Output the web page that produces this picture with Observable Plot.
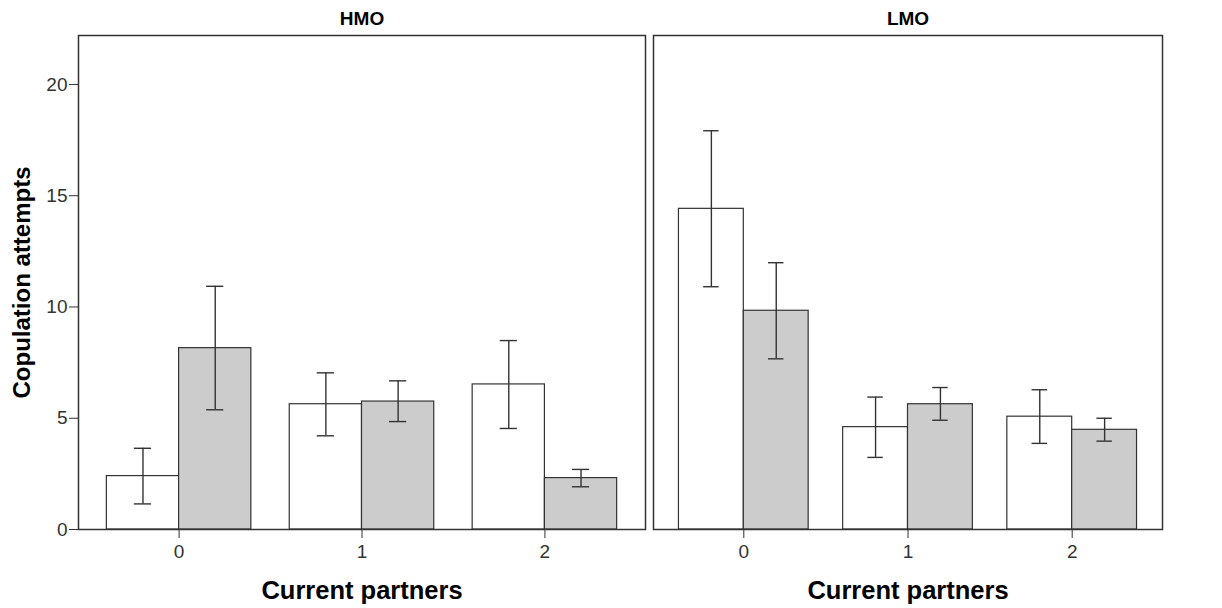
<!DOCTYPE html>
<html>
<head>
<meta charset="utf-8">
<script src="https://cdn.jsdelivr.net/npm/d3@7"></script>
<script src="https://cdn.jsdelivr.net/npm/@observablehq/plot@0.6"></script>
<style>
  body { margin: 0; background: #fff; }
  #chart { display: flex; width: 1222px; height: 608px; }
  #chart svg { display: block; }
</style>
</head>
<body>
<div id="chart"></div>
<script>
// Number of current partners (x categories)
const partners = [0, 1, 2];
const panels = ["HMO", "LMO"];
const yTicks = [0, 5, 10, 15, 20];

// HMO – open (white) bars: mean and error-bar limits
const hmoOpenMean = [2.40, 5.63, 6.52];
const hmoOpenLow  = [1.15, 4.21, 4.54];
const hmoOpenHigh = [3.65, 7.04, 8.49];
// HMO – shaded (grey) bars
const hmoShadedMean = [8.15, 5.75, 2.31];
const hmoShadedLow  = [5.38, 4.85, 1.92];
const hmoShadedHigh = [10.93, 6.68, 2.70];

// LMO – open (white) bars
const lmoOpenMean = [14.41, 4.60, 5.07];
const lmoOpenLow  = [10.91, 3.24, 3.87];
const lmoOpenHigh = [17.92, 5.95, 6.28];
// LMO – shaded (grey) bars
const lmoShadedMean = [9.83, 5.63, 4.48];
const lmoShadedLow  = [7.67, 4.91, 3.97];
const lmoShadedHigh = [11.99, 6.38, 5.00];

const half = 0.395;   // width of one bar, in category units
const cap = 0.047;    // half-width of the error-bar caps

function rows(openM, openL, openH, shM, shL, shH) {
  const out = [];
  partners.forEach((p, i) => {
    out.push({p, group: "open", x1: p - half, x2: p, mean: openM[i], low: openL[i], high: openH[i]});
    out.push({p, group: "shaded", x1: p, x2: p + half, mean: shM[i], low: shL[i], high: shH[i]});
  });
  out.forEach(d => d.xc = (d.x1 + d.x2) / 2);
  return out;
}

const data = {
  HMO: rows(hmoOpenMean, hmoOpenLow, hmoOpenHigh, hmoShadedMean, hmoShadedLow, hmoShadedHigh),
  LMO: rows(lmoOpenMean, lmoOpenLow, lmoOpenHigh, lmoShadedMean, lmoShadedLow, lmoShadedHigh)
};

const ink = "#333";
const bold = "Liberation Sans, Arial, sans-serif";

function panel(name, {width, marginLeft, marginRight, showY}) {
  const d = data[name];
  const marks = [
    Plot.rectY(d, {x1: "x1", x2: "x2", y: "mean",
      fill: r => r.group === "open" ? "#ffffff" : "#cccccc", stroke: ink, strokeWidth: 1.2}),
    Plot.ruleX(d, {x: "xc", y1: "low", y2: "high", stroke: ink, strokeWidth: 1.4}),
    Plot.ruleY(d, {y: "high", x1: r => r.xc - cap, x2: r => r.xc + cap, stroke: ink, strokeWidth: 1.4}),
    Plot.ruleY(d, {y: "low", x1: r => r.xc - cap, x2: r => r.xc + cap, stroke: ink, strokeWidth: 1.4}),
    Plot.frame({stroke: ink, strokeWidth: 1.5}),
    // panel heading above the frame
    Plot.text([name], {frameAnchor: "top", lineAnchor: "middle", dy: -17, fontSize: 19,
      fontWeight: "bold", fill: "#000", fontFamily: bold}),
    // x-axis title
    Plot.text(["Current partners"], {frameAnchor: "bottom", lineAnchor: "middle", dy: 61,
      fontSize: 25.5, fontWeight: "bold", fill: "#000", fontFamily: bold})
  ];
  if (showY) {
    marks.push(Plot.text(["Copulation attempts"], {frameAnchor: "left", rotate: -90, dx: -56,
      textAnchor: "middle", fontSize: 24, fontWeight: "bold", fill: "#000", fontFamily: bold}));
  }
  return Plot.plot({
    width, height: 608,
    marginTop: 35, marginBottom: 79, marginLeft, marginRight,
    style: {fontFamily: "Liberation Sans Narrow, Arial Narrow, Liberation Sans, sans-serif",
            fontSize: "19px", color: ink, background: "#fff"},
    x: {type: "linear", domain: [-0.55, 2.55], ticks: partners, tickFormat: t => String(t),
        tickSize: 9, tickPadding: 6, label: null},
    y: {domain: [0, 22.2], ticks: yTicks, tickSize: 9, tickPadding: 2, label: null,
        axis: showY ? "left" : null},
    marks
  });
}

const chart = document.getElementById("chart");
chart.append(panel("HMO", {width: 650, marginLeft: 78, marginRight: 5, showY: true}));
chart.append(panel("LMO", {width: 572, marginLeft: 3, marginRight: 60, showY: false}));
</script>
</body>
</html>
